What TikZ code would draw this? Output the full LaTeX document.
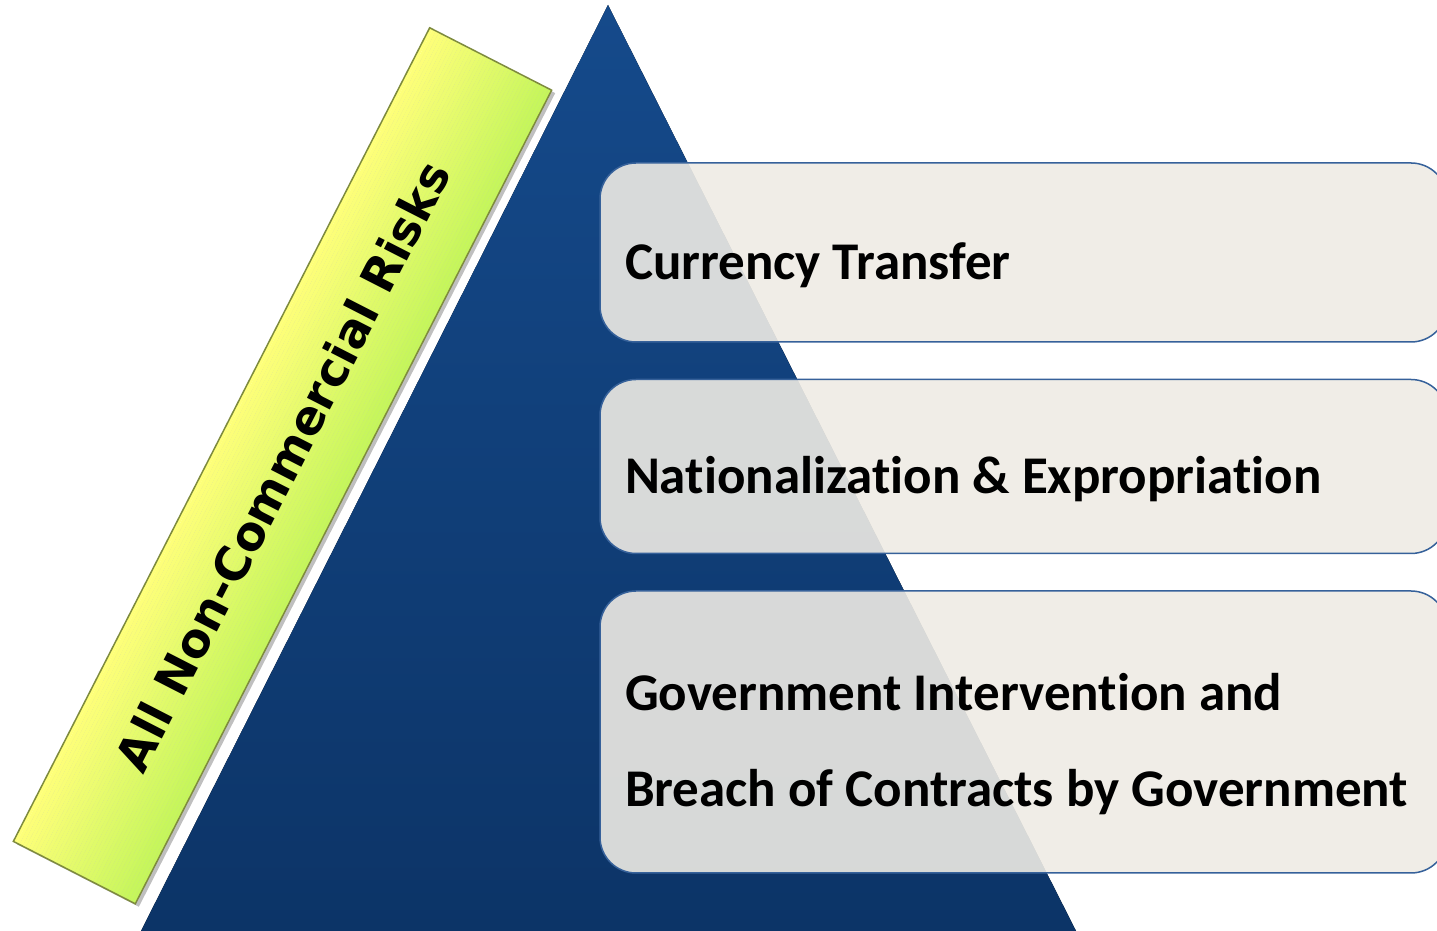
\documentclass[tikz,border=0pt]{standalone}
\usepackage{fontspec}
\usetikzlibrary{positioning}

\newfontfamily\boxfont{Carlito}[Ligatures=NoCommon]
\newfontfamily\bannerfont{DejaVu Sans}

\definecolor{tritop}{HTML}{154A8B}
\definecolor{tribot}{HTML}{0C3467}
\definecolor{boxfill}{HTML}{EEEBE4}
\definecolor{boxline}{HTML}{36619A}
\definecolor{bannerleft}{HTML}{FFFF7A}
\definecolor{bannerright}{HTML}{C3F55A}
\definecolor{bannerline}{HTML}{7E8B3E}

\tikzset{
	riskbox/.style={draw=boxline, line width=1.5pt, fill=boxfill, fill opacity=0.9,
		text opacity=1, rounded corners=36pt, minimum width=847pt, inner xsep=25pt,
		text width=797pt, align=flush left, text height=62pt,
		font=\boxfont\bfseries\fontsize{53}{96}\selectfont},
	banner/.style={transform shape, minimum width=914pt, minimum height=137pt, inner sep=0pt,
		draw=bannerline, line width=1.5pt,
		font=\bannerfont\bfseries\fontsize{47}{52}\selectfont}
}

\begin{document}
\begin{tikzpicture}[x=1pt,y=1pt,node distance=36pt]
			\useasboundingbox (0,0) rectangle (1437,931);
			\clip (0,0) rectangle (1437,931);
			% pyramid
			\fill[top color=tritop, bottom color=tribot] (608,926) -- (1076,0) -- (141,0) -- cycle;
			% tilted banner along the left side, shaded across its width
			\begin{scope}[shift={(282.5,465.2)}, rotate=62.9]
				\fill[black, opacity=0.25] (-458,-73) rectangle (456,64);
				\foreach \i [evaluate=\i as \p using 100-2.5*\i] in {0,...,39}
					\fill[bannerleft!\p!bannerright] (-457,68.5-3.425*\i) rectangle (457,65-3.425*\i);
				\node[banner] (allrisks) at (0,0) {All Non-Commercial Risks};
			\end{scope}
			% risk boxes
			\node[riskbox, minimum height=179pt] (transfer) at (1023.5,678.5) {Currency Transfer};
			\node[riskbox, minimum height=174pt] (nationalization) [below=of transfer] {Nationalization \& Expropriation};
			\node[riskbox, minimum height=282pt] (intervention) [below=of nationalization]
				{Government Intervention and\\Breach of Contracts by Government};
		\end{tikzpicture}
\end{document}
